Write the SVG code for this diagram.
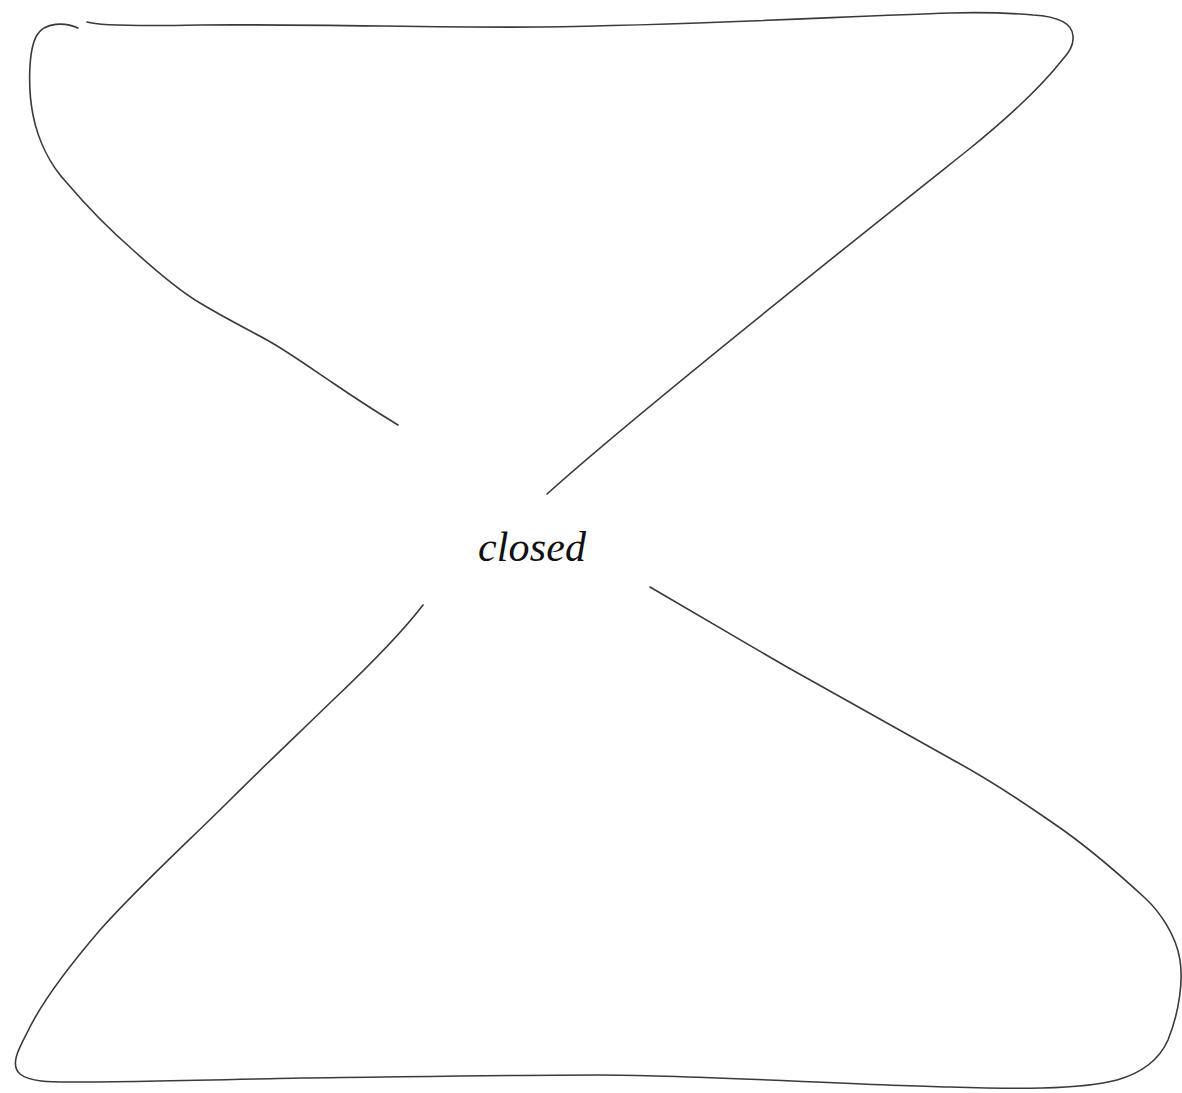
<svg xmlns="http://www.w3.org/2000/svg" width="1182" height="1093" viewBox="0 0 1182 1093">
<style>
.stroke{fill:none;stroke:#3a3a3a;stroke-width:1.6;stroke-linecap:round;stroke-linejoin:round}
.label{font-family:"Liberation Serif","DejaVu Serif",serif;font-style:italic;font-size:42px;fill:#111}
</style>
<rect width="1182" height="1093" fill="#ffffff"/>
<g id="shape">
<path class="stroke" d="M78,28 C65,22 45,22 37,35 C28,50 28,90 33,115 C38,140 50,165 67,183 C90,210 110,230 133,250 C155,270 178,290 200,303 C225,318 245,328 267,340 C290,353 312,369 333,383 C355,398 375,411 398,425"/>
<path class="stroke" d="M87,22 C100,26 150,26 200,25 C320,24 440,28 540,27 C700,25 850,16 950,13 C985,12 1010,13 1033,15 C1050,16 1072,20 1073,36 C1074,46 1068,53 1063,59 C1045,82 1020,108 968,150 C880,220 640,410 547,494"/>
<path class="stroke" d="M423,605 C400,635 370,665 333,700 C300,732 265,765 233,797 C190,840 140,885 100,930 C70,965 40,1005 27,1033 C18,1050 10,1065 20,1074 C30,1082 50,1082 70,1082 C150,1082 250,1079 300,1078 C400,1077 500,1075 600,1075 C700,1075 850,1085 950,1087 C1010,1089 1080,1090 1117,1080 C1145,1072 1160,1058 1168,1040 C1180,1010 1183,980 1180,960 C1176,935 1160,912 1145,898 C1120,875 1090,848 1053,823 C1020,800 990,780 953,760 C900,730 840,697 787,667 C740,640 690,610 650,587"/>
</g>
<g id="label">
<text class="label" x="478" y="561" textLength="108">closed</text>
</g>
</svg>
